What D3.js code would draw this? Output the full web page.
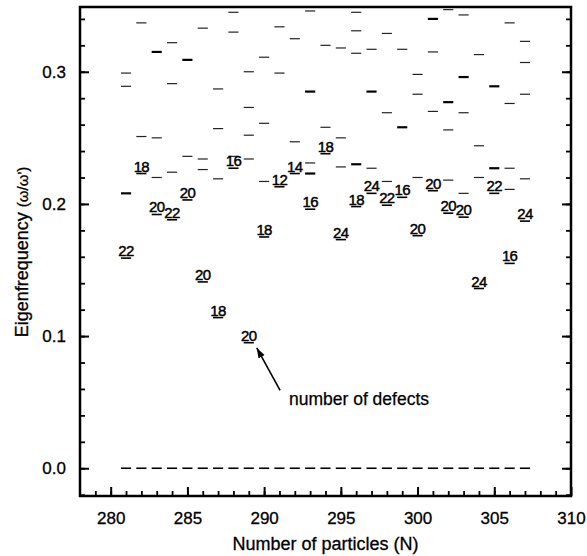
<!DOCTYPE html>
<html>
<head>
<meta charset="utf-8">
<script src="https://cdn.jsdelivr.net/npm/d3@7"></script>
<style>
  body { margin: 0; background: #fff; }
  text { font-family: "Liberation Sans", Arial, Helvetica, sans-serif; fill: #000; }
</style>
</head>
<body>
<div id="chart"></div>
<script>
// particle counts
const particles = d3.range(281, 308);

// lowest mode for each N, with the number of defects written above it
const lowest_freq = [0.159, 0.223, 0.192, 0.188, 0.203, 0.141, 0.114, 0.227, 0.095,
  0.175, 0.213, 0.223, 0.196, 0.238, 0.173, 0.198, 0.208, 0.199, 0.205, 0.176,
  0.210, 0.193, 0.190, 0.136, 0.208, 0.155, 0.187];
const defects = [22, 18, 20, 22, 20, 20, 18, 16, 20, 18, 12, 14, 16, 18, 24, 18,
  24, 22, 16, 20, 20, 20, 20, 24, 22, 16, 24];

// higher modes (single)
const mode_n = [281, 281, 282, 282, 283, 283, 284, 284, 284, 285, 286, 286, 286,
  287, 287, 287, 288, 288, 288, 289, 289, 289, 289, 290, 290, 290, 291, 291,
  292, 292, 293, 293, 294, 294, 295, 295, 295, 296, 296, 296, 297, 297,
  298, 298, 298, 299, 300, 300, 300, 301, 301, 302, 302, 302, 303, 303, 303,
  304, 304, 304, 306, 306, 306, 306, 307, 307, 307, 307];
const mode_freq = [0.299, 0.289, 0.337, 0.251, 0.250, 0.220, 0.322, 0.291, 0.224,
  0.236, 0.333, 0.234, 0.226, 0.287, 0.257, 0.219, 0.345, 0.330, 0.236,
  0.300, 0.273, 0.252, 0.234, 0.311, 0.261, 0.217, 0.334, 0.299,
  0.325, 0.247, 0.346, 0.231, 0.320, 0.258, 0.318, 0.250, 0.228,
  0.345, 0.331, 0.314, 0.317, 0.227, 0.329, 0.269, 0.217, 0.317,
  0.298, 0.283, 0.220, 0.315, 0.270, 0.347, 0.256, 0.218, 0.343, 0.269, 0.208,
  0.313, 0.244, 0.220, 0.337, 0.276, 0.227, 0.211, 0.323, 0.307, 0.283, 0.219];

// degenerate modes (drawn heavier)
const double_n = [281, 283, 285, 293, 293, 296, 297, 299, 301, 302, 303, 305, 305];
const double_freq = [0.208, 0.315, 0.309, 0.285, 0.223, 0.230, 0.285, 0.258,
  0.340, 0.277, 0.296, 0.289, 0.227];

const x_ticks = [280, 285, 290, 295, 300, 305, 310];
const y_ticks = [0.0, 0.1, 0.2, 0.3];

const width = 587, height = 556;
const margin = { top: 7, right: 16, bottom: 60, left: 80 };

const svg = d3.select("#chart").append("svg")
  .attr("width", width)
  .attr("height", height);

const x = d3.scaleLinear().domain([278, 310]).range([margin.left, width - margin.right]);
const y = d3.scaleLinear().domain([-0.021, 0.349]).range([height - margin.bottom, margin.top]);

const half = 0.33; // half dash width in N units

// zero modes
svg.append("g").selectAll("line")
  .data(particles)
  .enter().append("line")
  .attr("x1", d => x(d - half))
  .attr("x2", d => x(d + half))
  .attr("y1", y(0))
  .attr("y2", y(0))
  .attr("stroke", "#000")
  .attr("stroke-width", 1.6);

// higher modes
svg.append("g").selectAll("line")
  .data(mode_n)
  .enter().append("line")
  .attr("x1", d => x(d - half))
  .attr("x2", d => x(d + half))
  .attr("y1", (d, i) => y(mode_freq[i]))
  .attr("y2", (d, i) => y(mode_freq[i]))
  .attr("stroke", "#222")
  .attr("stroke-width", 1.2);

svg.append("g").selectAll("line")
  .data(double_n)
  .enter().append("line")
  .attr("x1", d => x(d - half))
  .attr("x2", d => x(d + half))
  .attr("y1", (d, i) => y(double_freq[i]))
  .attr("y2", (d, i) => y(double_freq[i]))
  .attr("stroke", "#000")
  .attr("stroke-width", 2.2);

// lowest modes + defect labels
svg.append("g").selectAll("line")
  .data(particles)
  .enter().append("line")
  .attr("x1", d => x(d - half))
  .attr("x2", d => x(d + half))
  .attr("y1", (d, i) => y(lowest_freq[i]))
  .attr("y2", (d, i) => y(lowest_freq[i]))
  .attr("stroke", "#000")
  .attr("stroke-width", 1.6);

svg.append("g").selectAll("text")
  .data(particles)
  .enter().append("text")
  .attr("x", d => x(d))
  .attr("y", (d, i) => y(lowest_freq[i]) - 2)
  .attr("text-anchor", "middle")
  .attr("font-size", 15)
  .attr("letter-spacing", -0.6)
  .attr("stroke", "#000")
  .attr("stroke-width", 0.45)
  .text((d, i) => defects[i]);

// arrow + note
svg.append("defs").append("marker")
  .attr("id", "head")
  .attr("viewBox", "0 0 10 10")
  .attr("refX", 10).attr("refY", 5)
  .attr("markerWidth", 10).attr("markerHeight", 10)
  .attr("markerUnits", "userSpaceOnUse")
  .attr("orient", "auto")
  .append("path").attr("d", "M0,1.5 L10,5 L0,8.5 Z").attr("fill", "#000");

svg.append("line")
  .attr("x1", x(291.04)).attr("y1", y(0.059))
  .attr("x2", x(289.52)).attr("y2", y(0.091))
  .attr("stroke", "#000")
  .attr("stroke-width", 1.6)
  .attr("marker-end", "url(#head)");

svg.append("text")
  .attr("x", x(291.62))
  .attr("y", y(0.048))
  .attr("font-size", 17.5)
  .attr("stroke", "#000")
  .attr("stroke-width", 0.25)
  .text("number of defects");

// axes, ticks pointing inward
const bottom = height - margin.bottom;
const right = width - margin.right;

svg.append("g")
  .attr("transform", `translate(0,${bottom})`)
  .call(d3.axisBottom(x).tickValues(d3.range(279, 310)).tickSize(-5).tickFormat(""))
  .call(g => g.select(".domain").remove())
  .call(g => g.selectAll("line").attr("stroke-width", 1.8));

svg.append("g")
  .attr("transform", `translate(0,${bottom})`)
  .call(d3.axisBottom(x).tickValues(x_ticks).tickSize(-9).tickPadding(16).tickFormat(d3.format("d")))
  .call(g => g.select(".domain").remove())
  .call(g => g.selectAll("line").attr("stroke-width", 2))
  .call(g => g.selectAll("text").attr("font-size", 17).attr("fill", "#000")
    .attr("stroke", "#000").attr("stroke-width", 0.3));

const y_minor = d3.range(-0.02, 0.345, 0.02).map(v => +v.toFixed(2));

svg.append("g")
  .attr("transform", `translate(${margin.left},0)`)
  .call(d3.axisLeft(y).tickValues(y_minor).tickSize(-5).tickFormat(""))
  .call(g => g.select(".domain").remove())
  .call(g => g.selectAll("line").attr("stroke-width", 1.8));

svg.append("g")
  .attr("transform", `translate(${margin.left},0)`)
  .call(d3.axisLeft(y).tickValues(y_ticks).tickSize(-9).tickPadding(14).tickFormat(d3.format(".1f")))
  .call(g => g.select(".domain").remove())
  .call(g => g.selectAll("line").attr("stroke-width", 2))
  .call(g => g.selectAll("text").attr("font-size", 17).attr("fill", "#000")
    .attr("stroke", "#000").attr("stroke-width", 0.3));

svg.append("g")
  .attr("transform", `translate(${right},0)`)
  .call(d3.axisRight(y).tickValues(y_minor).tickSize(-5).tickFormat(""))
  .call(g => g.select(".domain").remove())
  .call(g => g.selectAll("line").attr("stroke-width", 1.8));

svg.append("g")
  .attr("transform", `translate(${right},0)`)
  .call(d3.axisRight(y).tickValues(y_ticks).tickSize(-9).tickFormat(""))
  .call(g => g.select(".domain").remove())
  .call(g => g.selectAll("line").attr("stroke-width", 2));

// frame
svg.append("rect")
  .attr("x", margin.left)
  .attr("y", margin.top)
  .attr("width", right - margin.left)
  .attr("height", bottom - margin.top)
  .attr("fill", "none")
  .attr("stroke", "#000")
  .attr("stroke-width", 2.5);

// axis titles
svg.append("text")
  .attr("x", (margin.left + right) / 2)
  .attr("y", 550)
  .attr("text-anchor", "middle")
  .attr("font-size", 18)
  .attr("stroke", "#000")
  .attr("stroke-width", 0.3)
  .text("Number of particles (N)");

const ytitle = svg.append("text")
  .attr("transform", "translate(28,252) rotate(-90)")
  .attr("text-anchor", "middle")
  .attr("font-size", 18)
  .attr("stroke", "#000")
  .attr("stroke-width", 0.3);
ytitle.append("tspan").text("Eigenfrequency  ");
ytitle.append("tspan").attr("font-size", 15).text("(ω/ω')");
</script>
</body>
</html>
